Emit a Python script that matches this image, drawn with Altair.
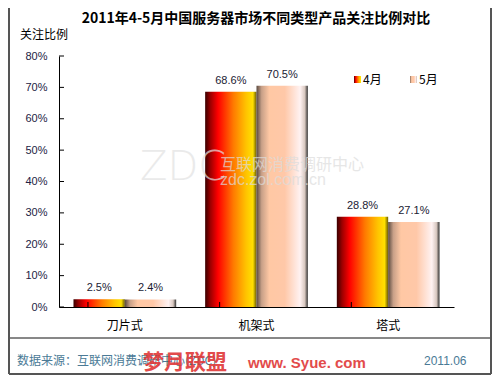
import altair as alt
import pandas as pd

# ---- data ----
categories = ["刀片式", "机架式", "塔式"]
series = ["4月", "5月"]
april = [2.5, 68.6, 28.8]
may = [2.4, 70.5, 27.1]
y_ticks = [0, 10, 20, 30, 40, 50, 60, 70, 80]

title_text = "2011年4-5月中国服务器市场不同类型产品关注比例对比"
y_title = "关注比例"
source_text = "数据来源：互联网消费调研中心(ZDC)"
date_text = "2011.06"

rows = []
for c, a, m in zip(categories, april, may):
    rows.append({"cat": c, "series": series[0], "value": a, "label": f"{a:.1f}%"})
    rows.append({"cat": c, "series": series[1], "value": m, "label": f"{m:.1f}%"})
df = pd.DataFrame(rows)

W, H = 395, 251
PI, PO = 0.22, 0.11
STEP = W / (len(categories) - PI + 2 * PO)
CJK = "Noto Sans CJK SC"
LAT = "Liberation Sans"


def grad(stops):
    return alt.Gradient(
        gradient="linear",
        stops=[alt.GradientStop(offset=o, color=c) for o, c in stops],
        x1=0, x2=1, y1=0, y2=0,
    )


grad_apr = grad([(0, "#3a0000"), (0.1, "#9a0000"), (0.25, "#ff0000"),
                 (0.55, "#ff7a00"), (0.8, "#ffc400"), (0.93, "#ffe000"), (1, "#6a5a00")])
grad_may = grad([(0, "#5a4a40"), (0.1, "#c8a088"), (0.25, "#ffc8a4"),
                 (0.55, "#ffc8a8"), (0.85, "#fff2f2"), (0.94, "#d8c8c0"), (1, "#303030")])

x_axis = alt.Axis(title=None, ticks=False, tickSize=0, labelPadding=13,
                  labelFont=CJK, labelFontSize=12, labelColor="#000000",
                  labelAngle=0, domainColor="#000000", domainWidth=1, grid=False)
x_scale = alt.Scale(paddingInner=PI, paddingOuter=PO)
y_axis = alt.Axis(title=None, values=y_ticks, labelExpr="datum.value + '%'",
                  ticks=False, tickSize=0, labelPadding=12, labelFont=LAT,
                  labelFontSize=11, labelColor="#222244", domainColor="#000000",
                  domainWidth=1, grid=False)
y_scale = alt.Scale(domain=[0, 80], nice=False)

x_enc = alt.X("cat:N", sort=categories, scale=x_scale, axis=x_axis)
xo_enc = alt.XOffset("series:N", sort=series,
                     scale=alt.Scale(domain=series, paddingInner=0, paddingOuter=0))
y_enc = alt.Y("value:Q", scale=y_scale, axis=y_axis)

base = alt.Chart(df)
bars_apr = base.transform_filter(alt.datum.series == series[0]).mark_bar(fill=grad_apr).encode(
    x=x_enc, xOffset=xo_enc, y=y_enc)
bars_may = base.transform_filter(alt.datum.series == series[1]).mark_bar(fill=grad_may).encode(
    x=x_enc, xOffset=xo_enc, y=y_enc)
labels = base.mark_text(baseline="bottom", dy=-6, font=LAT, fontSize=11, color="#1a1a33").encode(
    x=x_enc, xOffset=xo_enc, y=y_enc, text="label:N")

# inside ticks
ytick_df = pd.DataFrame({"value": y_ticks})
yticks = alt.Chart(ytick_df).mark_rule(color="#000000", strokeWidth=1).encode(
    y=y_enc, x=alt.value(0), x2=alt.value(5))
xtick_df = pd.DataFrame({"cat": categories})
xticks = alt.Chart(xtick_df).mark_rule(color="#000000", strokeWidth=1).encode(
    x=alt.X("cat:N", sort=categories, scale=x_scale, axis=x_axis, bandPosition=1),
    xOffset=alt.value(PO * STEP),
    y=alt.value(H - 5), y2=alt.value(H))


def txt(s, x, y, **kw):
    return alt.Chart(pd.DataFrame({"t": [s]})).mark_text(**kw).encode(
        x=alt.value(x), y=alt.value(y), text="t:N")


def rule(x1, x2, y1, y2, **kw):
    return alt.Chart(pd.DataFrame({"a": [0]})).mark_rule(**kw).encode(
        x=alt.value(x1), x2=alt.value(x2), y=alt.value(y1), y2=alt.value(y2))


title = txt(title_text, 197, -37, font=CJK, fontSize=14, fontWeight="bold",
            align="center", baseline="middle", color="#000000")
ytitle = txt(y_title, -39, -21, font=CJK, fontSize=12, align="left",
             baseline="middle", color="#000000")

# legend
leg = []
for i, (s, g) in enumerate(zip(series, [grad_apr, grad_may])):
    x0 = 295 + i * 56
    leg.append(alt.Chart(pd.DataFrame({"s": [s]})).mark_rect(fill=g).encode(
        x=alt.value(x0), x2=alt.value(x0 + 7), y=alt.value(20), y2=alt.value(27)))
    leg.append(txt(s, x0 + 9, 23.5, font=CJK, fontSize=12, align="left",
                   baseline="middle", color="#000000"))

# watermark
wm1 = txt("ZDC", 81, 112, font="DejaVu Sans", fontSize=40, fontWeight=200, align="left",
          baseline="middle", color="#e2e2e2", opacity=0.7)
wm2 = txt("互联网消费调研中心", 161, 109, font=CJK, fontSize=16, align="left",
          baseline="middle", color="#dcdcdc", opacity=0.7)
wm3 = txt("zdc.zol.com.cn", 161, 124, font=LAT, fontSize=16, align="left",
          baseline="middle", color="#dcdcdc", opacity=0.7)

# footer
sep = rule(-51, 433, 282, 282, color="#111111", strokeWidth=1)
src = txt(source_text, -42, 305, font=CJK, fontSize=12, align="left",
          baseline="middle", color="#4a7a96")
date = txt(date_text, 365, 305, font=LAT, fontSize=12, align="left",
           baseline="middle", color="#4a7a96")
red1 = txt("梦月联盟", 84, 307, font=CJK, fontSize=21, fontWeight="bold", align="left",
           baseline="middle", color="#e03838", opacity=0.9)
red2 = txt("www. Syue. com", 189, 307, font=LAT, fontSize=15, fontWeight="bold", align="left",
           baseline="middle", color="#e03838", opacity=0.9)

# outer frame (left, right, bottom)
fl = rule(-50, -50, -48, 318, color="#555555", strokeWidth=2)
fr = rule(432, 432, -48, 318, color="#555555", strokeWidth=2)
fb = rule(-50, 432, 318, 318, color="#555555", strokeWidth=2)

chart = alt.layer(
    bars_apr, bars_may, labels, yticks, xticks, title, ytitle, *leg,
    wm1, wm2, wm3, sep, src, date, red1, red2, fl, fr, fb
).properties(
    width=W, height=H,
    autosize=alt.AutoSizeParams(type="none"),
    padding={"left": 51, "top": 48, "right": 38, "bottom": 68},
    background="#ffffff",
).configure_view(strokeWidth=0)

chart.save("out.html", embed_options={"renderer": "svg", "actions": False})
